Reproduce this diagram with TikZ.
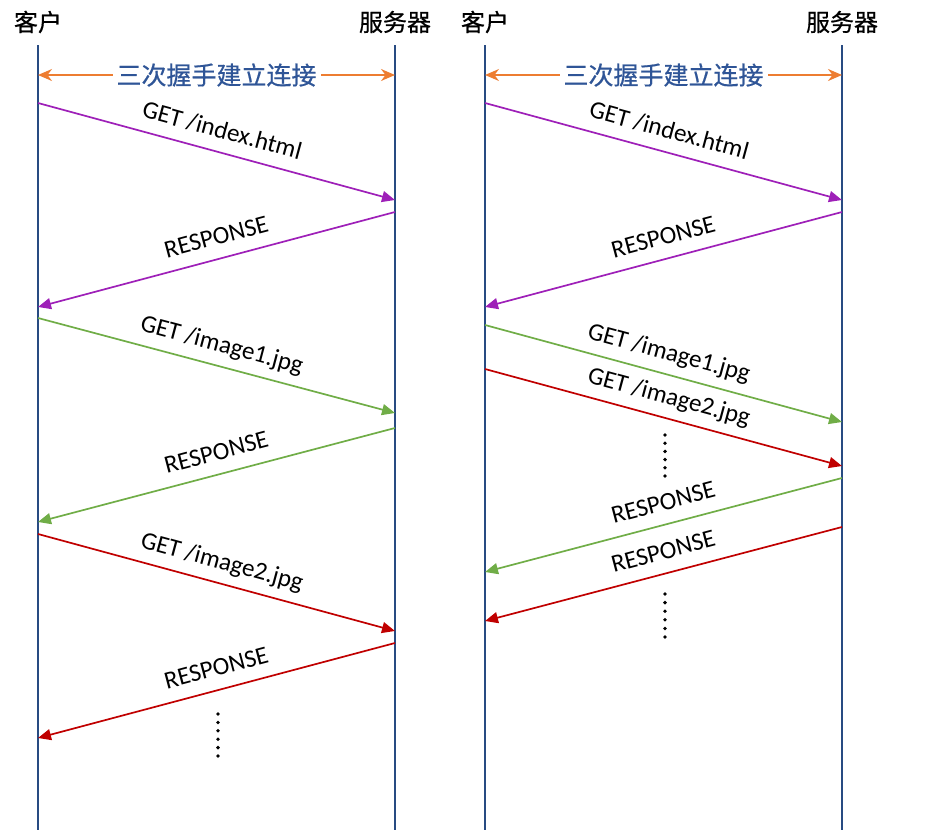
\documentclass[tikz,border=0pt]{standalone}
\usepackage{fontspec}
\setmainfont{Carlito}
\newfontfamily\cjk[FakeBold=0.6]{Noto Sans CJK SC}
\usepackage{tikz}
\usetikzlibrary{arrows.meta, positioning, calc}
\definecolor{lineblue}{RGB}{40,75,130}
\definecolor{txtblue}{RGB}{47,85,151}
\definecolor{myorange}{RGB}{237,125,49}
\definecolor{mypurple}{RGB}{158,32,184}
\definecolor{mygreen}{RGB}{112,173,71}
\definecolor{myred}{RGB}{192,0,0}
\tikzset{
  party/.style={font=\cjk\fontsize{24}{28}\selectfont, inner sep=0pt},
  lifeline/.style={line width=1.6pt, color=lineblue},
  msg/.style={-{Triangle[length=13pt,width=11pt]}, line width=1.7pt},
  msglabel/.style={font=\fontsize{25}{30}\selectfont, sloped, above, text=black,
    text depth=0pt, inner xsep=0pt, inner ysep=13pt, pos=0.5},
  backlabel/.style={msglabel, pos=0.485},
  hsarrow/.style={{Stealth[length=14pt,width=12pt]}-{Stealth[length=14pt,width=12pt]},
    line width=1.7pt, color=myorange},
  hslabel/.style={font=\cjk\fontsize{25}{30}\selectfont, text=txtblue,
    fill=white, inner xsep=4pt, inner ysep=2pt},
  dot/.style={circle, fill=black, inner sep=0pt, minimum size=3.8pt}
}

\begin{document}
\begin{tikzpicture}[x=1pt, y=-1pt]
  \useasboundingbox (0,0) rectangle (932,830);

  % left: one request after another
  \node[party] (c1) at (38,22) {客户};
  \node[party] (s1) at (395,22) {服务器};
  \coordinate (c1top) at (38,45);
  \coordinate (c1bot) at (38,830);
  \coordinate (s1top) at (395,45);
  \coordinate (s1bot) at (395,830);
  \draw[lifeline] (c1top) -- (c1bot);
  \draw[lifeline] (s1top) -- (s1bot);

  \coordinate (h1l) at (38,75);
  \coordinate (h1r) at (395,75);
  \draw[hsarrow] (h1l) -- (h1r) node[midway, hslabel] (hs1) {三次握手建立连接};

  \coordinate (a1) at (38,103);  \coordinate (b1) at (395,200);
  \coordinate (a2) at (395,212); \coordinate (b2) at (38,307);
  \coordinate (a3) at (38,318);  \coordinate (b3) at (395,413);
  \coordinate (a4) at (395,428); \coordinate (b4) at (38,522);
  \coordinate (a5) at (38,534);  \coordinate (b5) at (395,631);
  \coordinate (a6) at (395,643); \coordinate (b6) at (38,738);
  \draw[msg, mypurple] (a1) -- (b1) node[msglabel] (l1) {GET /index.html};
  \draw[msg, mypurple] (a2) -- (b2) node[backlabel] (l2) {RESPONSE};
  \draw[msg, mygreen] (a3) -- (b3) node[msglabel] (l3) {GET /image1.jpg};
  \draw[msg, mygreen] (a4) -- (b4) node[backlabel] (l4) {RESPONSE};
  \draw[msg, myred] (a5) -- (b5) node[msglabel] (l5) {GET /image2.jpg};
  \draw[msg, myred] (a6) -- (b6) node[backlabel] (l6) {RESPONSE};
  \foreach \k in {0,...,5}
    \node[dot] (d1\k) at (218,714+8.4*\k) {};

  % right: pipelined requests
  \node[party] (c2) at (485,22) {客户};
  \node[party] (s2) at (842,22) {服务器};
  \coordinate (c2top) at (485,45);
  \coordinate (c2bot) at (485,830);
  \coordinate (s2top) at (842,45);
  \coordinate (s2bot) at (842,830);
  \draw[lifeline] (c2top) -- (c2bot);
  \draw[lifeline] (s2top) -- (s2bot);

  \coordinate (h2l) at (485,75);
  \coordinate (h2r) at (842,75);
  \draw[hsarrow] (h2l) -- (h2r) node[midway, hslabel] (hs2) {三次握手建立连接};

  \coordinate (p1) at (485,103); \coordinate (q1) at (842,200);
  \coordinate (p2) at (842,212); \coordinate (q2) at (485,307);
  \coordinate (p3) at (485,325); \coordinate (q3) at (842,422);
  \coordinate (p4) at (485,369); \coordinate (q4) at (842,466);
  \coordinate (p5) at (842,478); \coordinate (q5) at (485,572);
  \coordinate (p6) at (842,527); \coordinate (q6) at (485,621);
  \draw[msg, mypurple] (p1) -- (q1) node[msglabel] (m1) {GET /index.html};
  \draw[msg, mypurple] (p2) -- (q2) node[backlabel] (m2) {RESPONSE};
  \draw[msg, mygreen] (p3) -- (q3) node[msglabel] (m3) {GET /image1.jpg};
  \draw[msg, myred] (p4) -- (q4) node[msglabel] (m4) {GET /image2.jpg};
  \draw[msg, mygreen] (p5) -- (q5) node[backlabel] (m5) {RESPONSE};
  \draw[msg, myred] (p6) -- (q6) node[backlabel] (m6) {RESPONSE};
  \foreach \k in {0,...,5} {
    \node[dot] (d2\k) at (665,435+8.2*\k) {};
    \node[dot] (d3\k) at (665,594+8.6*\k) {};
  }
\end{tikzpicture}
\end{document}
